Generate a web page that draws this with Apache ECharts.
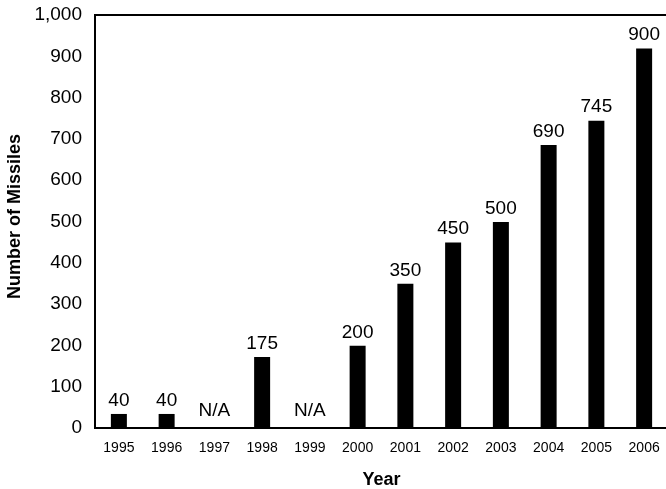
<!DOCTYPE html>
<html>
<head>
<meta charset="utf-8">
<script src="https://cdn.jsdelivr.net/npm/echarts@6/dist/echarts.min.js"></script>
<style>
  html, body { margin: 0; padding: 0; background: #fff; }
  #chart { width: 666px; height: 489px; }
</style>
</head>
<body>
<div id="chart"></div>
<script>
const years = ['1995','1996','1997','1998','1999','2000','2001','2002','2003','2004','2005','2006'];
const barHeights = [34, 34, 0, 172, 0, 199, 349, 449, 499, 685, 744, 919];
const barLabels = ['40','40','N/A','175','N/A','200','350','450','500','690','745','900'];
const yTicks = [0, 100, 200, 300, 400, 500, 600, 700, 800, 900, 1000];

const FONT = '"Liberation Sans", Arial, Helvetica, sans-serif';

const chart = echarts.init(document.getElementById('chart'));
chart.setOption({
  animation: false,
  backgroundColor: '#fff',
  grid: {
    left: 95, right: -2, top: 15, bottom: 61,
    outerBoundsMode: 'none',
    containLabel: false,
    show: true, borderColor: '#000', borderWidth: 2, backgroundColor: 'transparent'
  },
  xAxis: {
    type: 'category',
    data: years,
    name: 'Year',
    nameLocation: 'middle',
    nameGap: 43,
    nameTextStyle: { fontFamily: FONT, fontWeight: 'bold', fontSize: 18, color: '#000' },
    axisLine: { lineStyle: { color: '#000', width: 2 } },
    axisTick: { show: false },
    axisLabel: { fontFamily: FONT, fontSize: 14, color: '#000', margin: 13, interval: 0 }
  },
  yAxis: {
    type: 'value',
    min: yTicks[0],
    max: yTicks[yTicks.length - 1],
    interval: yTicks[1] - yTicks[0],
    name: 'Number of Missiles',
    nameLocation: 'middle',
    nameGap: 71,
    nameRotate: 90,
    nameTextStyle: { fontFamily: FONT, fontWeight: 'bold', fontSize: 18, color: '#000', padding: [0, 0, 0, 10] },
    axisLine: { show: true, lineStyle: { color: '#000', width: 2 } },
    axisTick: { show: false },
    splitLine: { show: false },
    axisLabel: {
      fontFamily: FONT, fontSize: 19, color: '#000', margin: 13,
      formatter: v => v.toLocaleString('en-US')
    }
  },
  series: [{
    type: 'bar',
    barWidth: 16,
    itemStyle: { color: '#000' },
    data: barHeights.map((v, i) => ({
      value: v,
      label: { distance: barLabels[i] === 'N/A' ? 8 : 4 }
    })),
    label: {
      show: true,
      position: 'top',
      fontFamily: FONT,
      fontSize: 19,
      color: '#000',
      formatter: p => barLabels[p.dataIndex]
    }
  }]
});
</script>
</body>
</html>
